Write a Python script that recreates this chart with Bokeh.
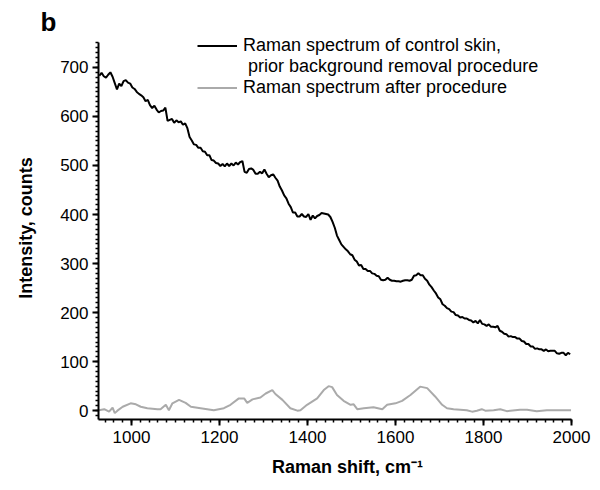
from bokeh.plotting import figure
from bokeh.models import Range1d, Legend, LegendItem, SingleIntervalTicker
from bokeh.embed import file_html
from bokeh.resources import INLINE

# ---------------- data ----------------
control_shift = list(range(927, 2001, 5))
control_counts = [
    683, 689, 682, 679, 685, 690, 681, 668, 655, 667, 662, 672, 674, 669, 667, 659,
    656, 650, 646, 643, 639, 631, 634, 623, 617, 622, 614, 608, 611, 612, 618, 591,
    593, 595, 587, 592, 588, 590, 583, 586, 576, 558, 551, 543, 542, 536, 536, 529,
    528, 521, 521, 511, 510, 505, 504, 499, 503, 498, 504, 499, 504, 500, 506, 502,
    507, 509, 487, 485, 493, 494, 491, 483, 483, 487, 484, 492, 483, 476, 480, 482,
    475, 469, 457, 449, 439, 433, 422, 415, 404, 404, 396, 396, 401, 396, 395, 401,
    389, 398, 392, 397, 399, 403, 402, 401, 400, 395, 385, 373, 357, 348, 339, 334,
    329, 325, 319, 317, 308, 304, 296, 297, 289, 289, 285, 285, 280, 279, 275, 274,
    267, 266, 267, 271, 267, 265, 265, 264, 264, 263, 265, 266, 266, 265, 267, 275,
    276, 280, 276, 276, 269, 265, 257, 252, 245, 239, 231, 227, 217, 214, 209, 207,
    202, 201, 195, 194, 190, 191, 188, 188, 185, 184, 180, 183, 178, 185, 177, 176,
    173, 176, 171, 171, 170, 173, 163, 161, 157, 156, 151, 152, 150, 150, 147, 147,
    142, 141, 136, 136, 131, 131, 126, 127, 125, 125, 122, 125, 121, 122, 122, 122,
    117, 116, 118, 118, 113, 118, 115,
]

after_shift = [
    926, 938, 949, 957, 962, 968, 980, 998, 1010, 1021, 1036, 1059, 1066, 1078,
    1085, 1093, 1108, 1123, 1135, 1157, 1187, 1210, 1225, 1244, 1256, 1263, 1275,
    1293, 1305, 1320, 1327, 1343, 1361, 1377, 1384, 1399, 1422, 1437, 1448, 1456,
    1467, 1482, 1498, 1505, 1513, 1528, 1550, 1570, 1581, 1600, 1615, 1634, 1656,
    1672, 1690, 1706, 1717, 1732, 1762, 1774, 1785, 1796, 1804, 1823, 1838, 1853,
    1883, 1899, 1921, 1944, 1970, 1999,
]
after_counts = [
    1, 3, -2, 6, -5, 0, 8, 15, 13, 8, 5, 3, 3, 12,
    1, 15, 22, 16, 8, 5, 1, 5, 12, 25, 25, 16, 23,
    27, 35, 42, 34, 22, 5, 0, 1, 12, 25, 42, 50, 48,
    32, 20, 12, 13, 3, 5, 7, 3, 12, 15, 20, 32, 49,
    46, 29, 12, 5, 3, 1, -2, 0, 3, 0, 1, 3, -1,
    2, 2, -1, 1, 1, 1,
]

legend_labels = [
    "Raman spectrum of control skin,",
    "\u00a0prior background removal procedure",
    "Raman spectrum after procedure",
]

FONT = "Liberation Sans"
Y_AXIS_MIN, Y_AXIS_MAX = -18, 750
Y_VIEW_MAX = 763   # a little head-room above the axis so the legend is not clipped

p = figure(width=596, height=486, output_backend="svg", toolbar_location=None,
           x_range=Range1d(925, 2000), y_range=Range1d(Y_AXIS_MIN, Y_VIEW_MAX),
           min_border_left=98, min_border_right=25, min_border_top=36,
           min_border_bottom=67)
p.outline_line_color = None
p.grid.visible = False
p.background_fill_color = "white"
p.border_fill_color = "white"

p.title.text = "b"
p.title.align = "left"
p.title.offset = -58
p.title.standoff = 0
p.title.text_font = FONT
p.title.text_font_size = "26px"
p.title.text_font_style = "bold"
p.title.text_color = "black"

r_control = p.line(control_shift, control_counts, line_color="black", line_width=2)
r_after = p.line(after_shift, after_counts, line_color="#aaaaaa", line_width=2)
r_blank = p.line([], [], line_alpha=0)

for ax in (p.xaxis[0], p.yaxis[0]):
    ax.axis_line_width = 2
    ax.major_tick_line_width = 2
    ax.minor_tick_line_width = 1.5
    ax.major_tick_in = 0
    ax.major_tick_out = 6
    ax.minor_tick_in = 0
    ax.minor_tick_out = 3
    ax.major_label_text_font = FONT
    ax.major_label_text_font_size = "17px"
    ax.major_label_text_color = "black"
    ax.axis_label_text_font = FONT
    ax.axis_label_text_font_size = "18px"
    ax.axis_label_text_font_style = "bold"
    ax.axis_label_text_color = "black"

p.yaxis.bounds = (Y_AXIS_MIN, Y_AXIS_MAX)
p.xaxis.ticker = SingleIntervalTicker(interval=200, num_minor_ticks=10)
p.yaxis.ticker = SingleIntervalTicker(interval=100, num_minor_ticks=10)
p.xaxis.major_label_standoff = 5
p.yaxis.major_label_standoff = 4
p.xaxis.axis_label = "\u00a0" * 5 + "Raman shift, cm\u207b\u00b9"
p.yaxis.axis_label = "Intensity, counts"
p.xaxis.axis_label_standoff = 11
p.yaxis.axis_label_standoff = 21

legend = Legend(items=[
    LegendItem(label=legend_labels[0], renderers=[r_control]),
    LegendItem(label=legend_labels[1], renderers=[r_blank]),
    LegendItem(label=legend_labels[2], renderers=[r_after]),
], location=(99, 321))
legend.border_line_alpha = 0
legend.background_fill_alpha = 0
legend.padding = 0
legend.margin = 0
legend.spacing = 0
legend.glyph_width = 40
legend.glyph_height = 19
legend.label_height = 19
legend.label_standoff = 6
legend.label_text_font = FONT
legend.label_text_font_size = "18px"
legend.label_text_color = "black"
p.add_layout(legend, "center")

open("out.html", "w").write(file_html(p, INLINE))
